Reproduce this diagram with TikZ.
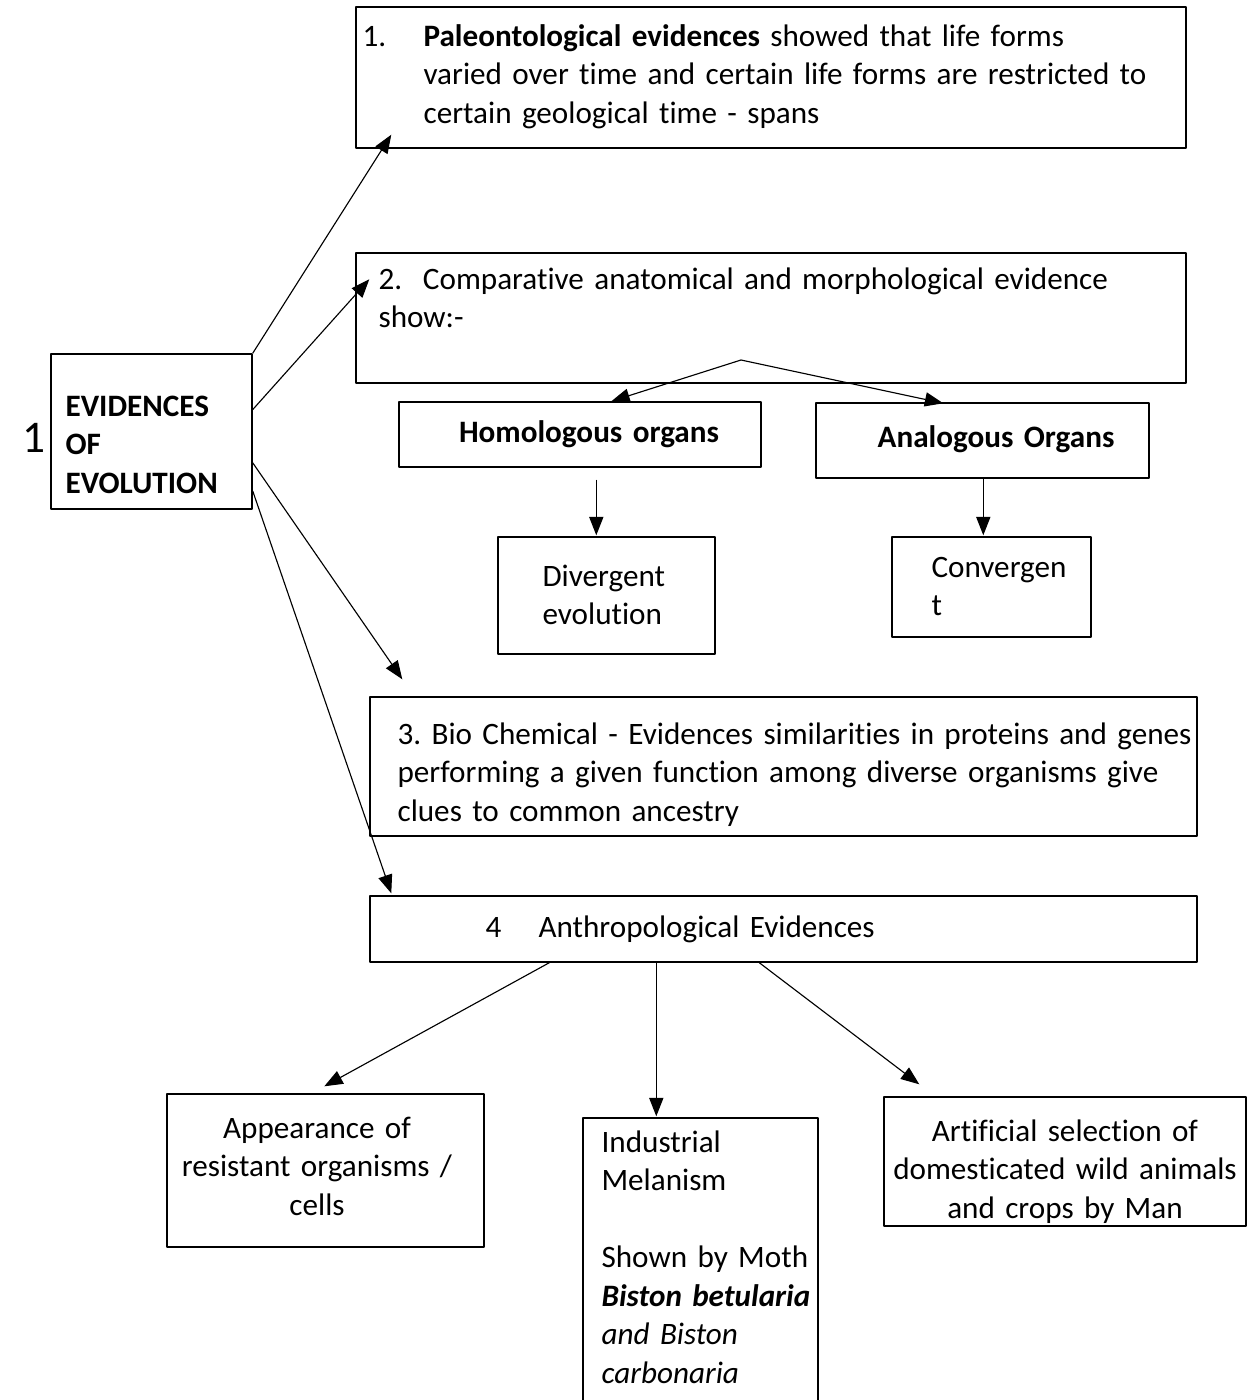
\documentclass[tikz,border=0pt]{standalone}
\usepackage{fontspec}
\setmainfont{Carlito}[Ligatures=NoCommon]
\usetikzlibrary{arrows.meta,calc,fit}
\frenchspacing
\newcommand\bodyfont{\fontsize{11}{13.6}\selectfont\spaceskip=2.0pt plus 1pt\relax}

\begin{document}
\begin{tikzpicture}[x=0.353pt, y=-0.353pt, font=\bodyfont, line join=round, >={Triangle[length=6.5pt,width=5pt]},
	box/.style={draw, line width=0.5pt, inner sep=0pt},
	txt/.style={anchor=base west, inner sep=0pt, align=left, text width=15cm},
	ctxt/.style={anchor=base, inner sep=0pt, align=center, text width=5cm}]
	\useasboundingbox[fill=white] (0,0) rectangle (1251,1400);
	\clip (0,0) rectangle (1251,1400);
	% boxes
	\node[box, fit={(51,354) (252,509)}] (ev) {};
	\node[box, fit={(356,7) (1186,148)}] (p1) {};
	\node[box, fit={(356,253) (1186,383)}] (p2) {};
	\node[box, fit={(399,402) (761,467)}] (hom) {};
	\node[box, fit={(816,403) (1149,478)}] (ana) {};
	\node[box, fit={(498,537) (715,654)}] (div) {};
	\node[box, fit={(892,537) (1091,637)}] (conv) {};
	\node[box, fit={(370,697) (1197,836)}] (bio) {};
	\node[box, fit={(370,896) (1197,962)}] (anthro) {};
	\node[box, fit={(167,1094) (484,1247)}] (app) {};
	\node[box, fit={(583,1118) (818,1430)}] (ind) {};
	\node[box, fit={(884,1097) (1246,1226)}] (art) {};
	% texts
	\node[txt, text width=1cm, font=\fontsize{16}{19}\selectfont] (num) at (22,452) {1};
	\node[txt, text width=4cm, font=\bodyfont\bfseries] (evtxt) at (65,416) {EVIDENCES\\OF\\EVOLUTION};
	\node[txt, text width=1cm] (p1num) at (362,46) {1.};
	\node[txt] (p1txt) at (423,46) {\textbf{Paleontological evidences} showed that life forms\\varied over time and certain life forms are restricted to\\certain geological time - spans};
	\node[txt] (p2txt) at (378,289) {2.\ \ Comparative anatomical and morphological evidence\\show:-};
	\node[ctxt, font=\bodyfont\bfseries] (homtxt) at (589,442) {Homologous organs};
	\node[ctxt, font=\bodyfont\bfseries] (anatxt) at (996,447) {Analogous Organs};
	\node[txt, text width=3cm] (divtxt) at (542,586) {Divergent\\evolution};
	\node[txt, text width=3cm] (convtxt) at (931,577) {Convergen\\t};
	\node[txt] (biotxt) at (397,744) {3. Bio Chemical - Evidences similarities in proteins and genes\\performing a given function among diverse organisms give\\clues to common ancestry};
	\node[txt, text width=1cm] (anthronum) at (485,937) {4};
	\node[txt] (anthrotxt) at (538,937) {Anthropological Evidences};
	\node[ctxt] (apptxt) at (317,1138) {Appearance of\\resistant organisms /\\cells};
	\node[txt, text width=4cm] (indtxt) at (601,1152) {Industrial\\Melanism\\[13.6pt]Shown by Moth\\\textbf{\textit{Biston betularia}}\\\textit{and Biston}\\\textit{carbonaria}};
	\node[ctxt, text width=6cm] (arttxt) at (1065,1141) {Artificial selection of\\domesticated wild animals\\and crops by Man};
	% arrows from the main box
	\draw[->] (ev.north east) -- ($(p1.south west)+(36,-14)$);
	\draw[->] ($(ev.north east)!0.36!(ev.south east)$) -- ($(p2.north west)+(14,27)$);
	\draw[->] ($(ev.north east)!0.70!(ev.south east)$) -- ($(bio.north west)+(33,-17)$);
	\draw[->] ($(ev.north east)!0.88!(ev.south east)$) -- ($(anthro.north west)+(22,-2)$);
	% organs
	\coordinate (fork) at (741,360);
	\draw[->] (fork) -- ($(hom.north west)+(213,0)$);
	\draw[->] (fork) -- ($(ana.north west)+(128,1)$);
	\draw[->] ($(hom.south west)+(198,12)$) -- ($(div.north west)+(99,-1)$);
	\draw[->] ($(ana.south west)+(168,0)$) -- ($(conv.north west)+(92,-1)$);
	% anthropological
	\draw[->] ($(anthro.south west)+(180,0)$) -- ($(app.north west)+(158,-7)$);
	\draw[->] ($(anthro.south west)+(287,0)$) -- ($(ind.north west)+(74,-1)$);
	\draw[->] ($(anthro.south west)+(390,0)$) -- ($(art.north west)+(36,-12)$);
\end{tikzpicture}
\end{document}
